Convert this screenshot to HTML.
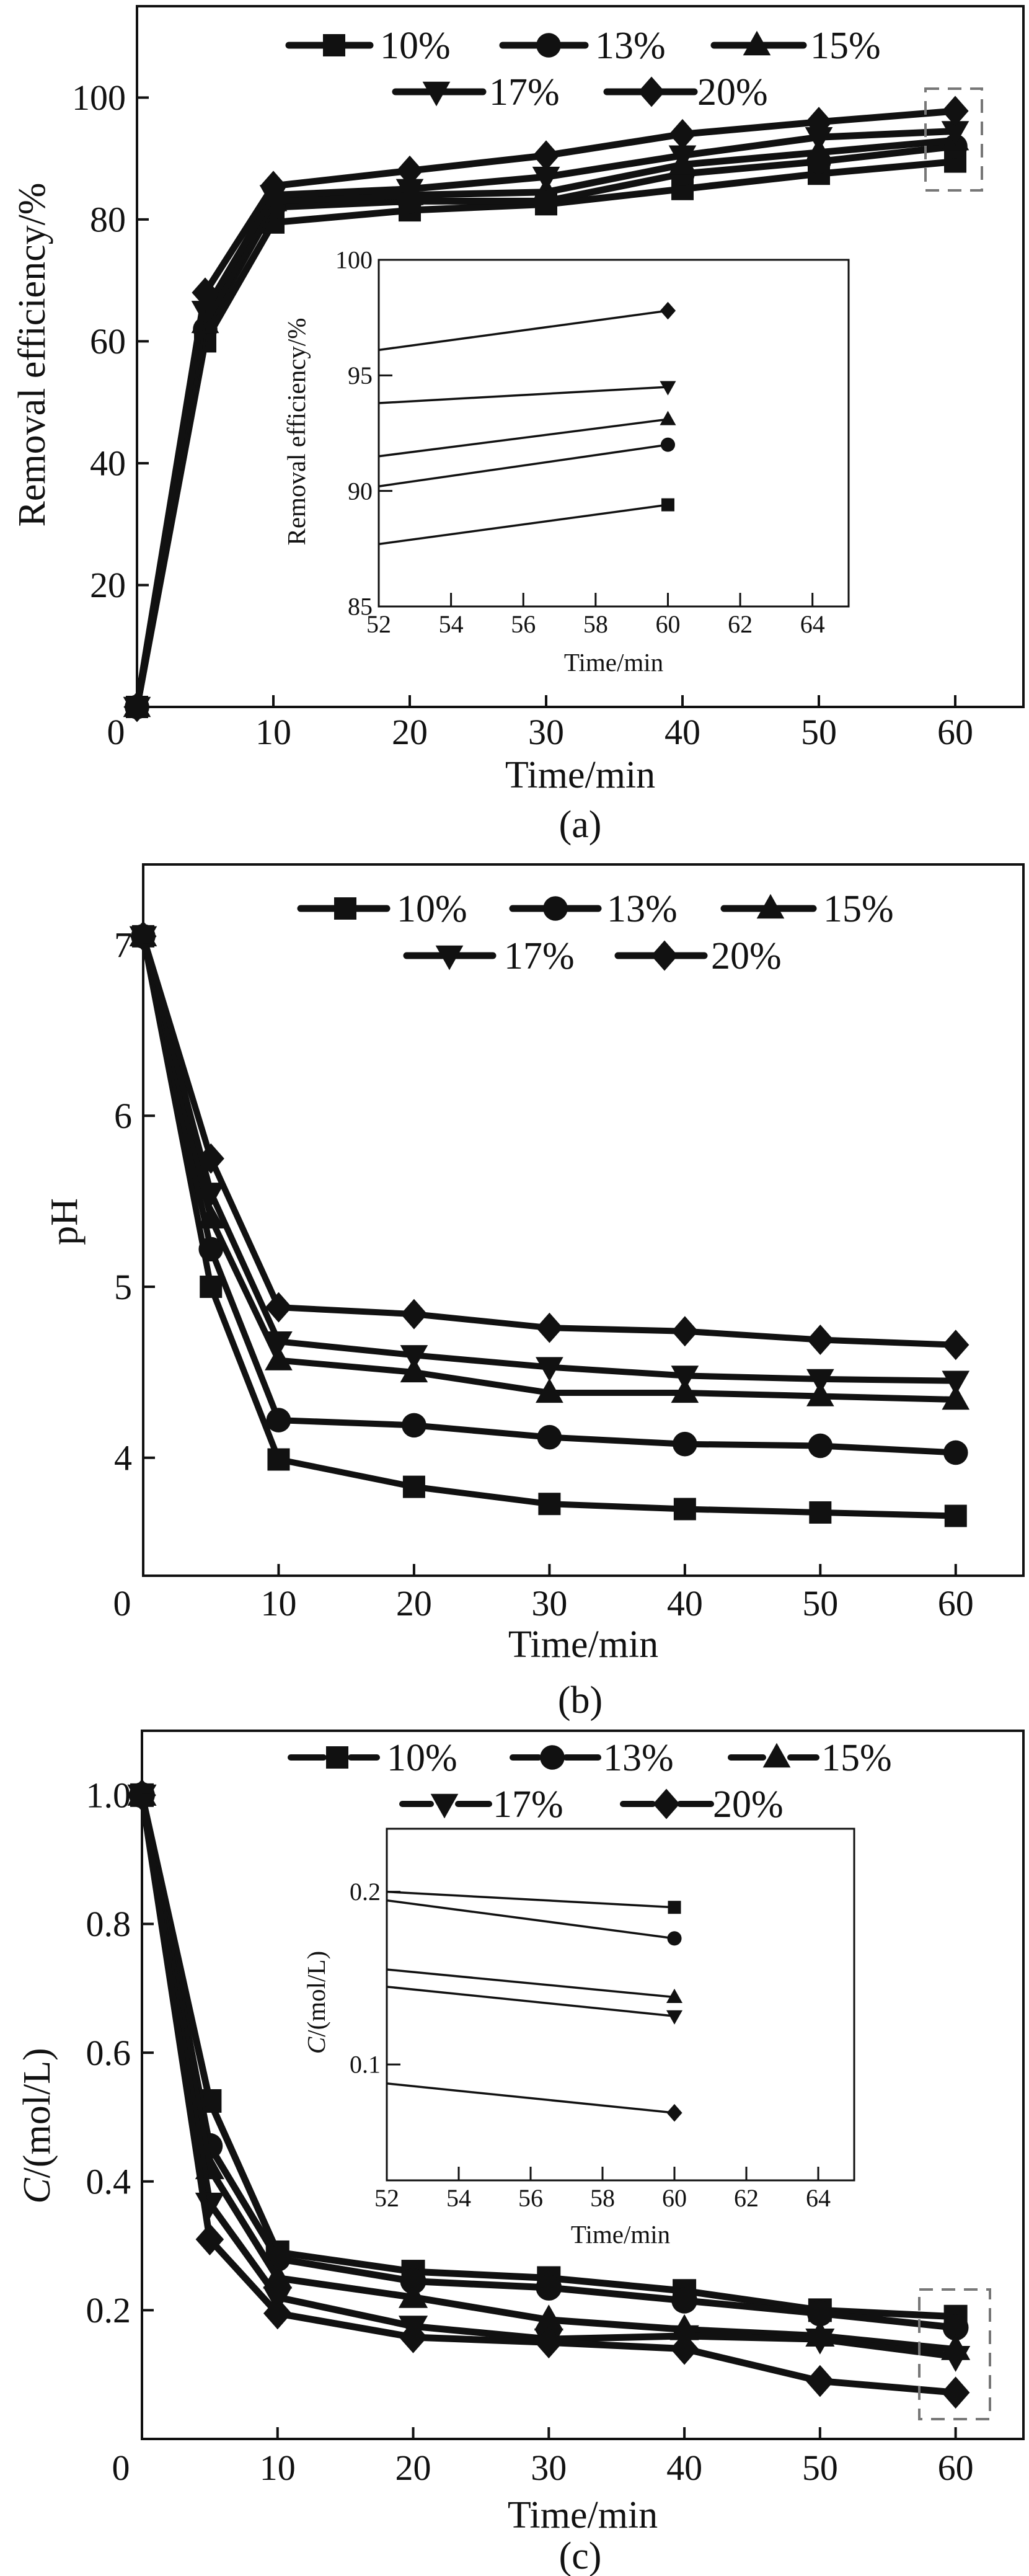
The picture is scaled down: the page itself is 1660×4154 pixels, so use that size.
<!DOCTYPE html>
<html><head><meta charset="utf-8"><style>
html,body{margin:0;padding:0;background:#fff}
svg{display:block}
svg text{font-family:"Liberation Serif","Times New Roman",serif;fill:#111}
</style></head><body>
<svg id="fig" width="1660" height="4154" viewBox="0 0 1660 4154" xmlns="http://www.w3.org/2000/svg">
<defs>
<clipPath id="clipInsetA"><rect x="611" y="419" width="758" height="559"/></clipPath>
<clipPath id="clipInsetC"><rect x="624" y="2949" width="754" height="567"/></clipPath>
</defs>
</svg>
<script>
// ---------- shared data ----------
const seriesLabels = ['10%','13%','15%','17%','20%'];
const markerTypes = ['square','circle','up','down','diamond'];
const timeMain = [0,5,10,20,30,40,50,60];
const timeInset = [52,60];
const xTicksMain = [0,10,20,30,40,50,60];
const xTicksInset = [52,54,56,58,60,62,64];

// panel (a) removal efficiency
const remA_10 = [0,60,79.5,81.5,82.5,85,87.5,89.5];
const remA_13 = [0,62,82,83,83,87.5,89.5,92];
const remA_15 = [0,63,83,84,84.5,89,91,93];
const remA_17 = [0,65,84,85,87,90.5,93.5,94.5];
const remA_20 = [0,68,85.5,88,90.5,94,96,97.8];
const yTicksA = [20,40,60,80,100];
const insetA_10 = [87.7,89.4];
const insetA_13 = [90.2,92.0];
const insetA_15 = [91.5,93.1];
const insetA_17 = [93.8,94.5];
const insetA_20 = [96.1,97.8];
const yTicksInsetA = [85,90,95,100];

// panel (b) pH
const phB_10 = [7.05,5.0,3.99,3.83,3.73,3.70,3.68,3.66];
const phB_13 = [7.05,5.22,4.22,4.19,4.12,4.08,4.07,4.03];
const phB_15 = [7.05,5.40,4.57,4.50,4.38,4.38,4.36,4.34];
const phB_17 = [7.05,5.55,4.68,4.60,4.53,4.48,4.46,4.45];
const phB_20 = [7.05,5.75,4.88,4.84,4.76,4.74,4.69,4.66];
const yTicksB = [4,5,6,7];

// panel (c) concentration
const concC_10 = [1.0,0.525,0.29,0.26,0.25,0.23,0.20,0.19];
const concC_13 = [1.0,0.455,0.28,0.245,0.235,0.215,0.195,0.173];
const concC_15 = [1.0,0.42,0.25,0.22,0.185,0.17,0.16,0.139];
const concC_17 = [1.0,0.366,0.22,0.175,0.155,0.16,0.155,0.128];
const concC_20 = [1.0,0.31,0.195,0.158,0.15,0.14,0.09,0.072];
const yTicksC = [0.2,0.4,0.6,0.8,1.0];
const insetC_10 = [0.200,0.191];
const insetC_13 = [0.195,0.173];
const insetC_15 = [0.155,0.139];
const insetC_17 = [0.145,0.128];
const insetC_20 = [0.089,0.072];
const yTicksInsetC = [0.1,0.2];

const NS='http://www.w3.org/2000/svg';
const FONT='"Liberation Serif", "Times New Roman", serif';
const svg=document.getElementById('fig');
function mk(tag,attrs,parent){const e=document.createElementNS(NS,tag);for(const k in attrs)e.setAttribute(k,attrs[k]);(parent||svg).appendChild(e);return e;}
function txt(s,attrs,parent){attrs['font-family']=FONT;const e=mk('text',attrs,parent);e.textContent=s;return e;}

function marker(type,cx,cy,s,parent){
  let e;
  if(type==='square') e=mk('rect',{x:cx-s/2,y:cy-s/2,width:s,height:s,fill:'#111'},parent);
  else if(type==='circle') e=mk('circle',{cx:cx,cy:cy,r:s*0.55,fill:'#111'},parent);
  else if(type==='up') e=mk('polygon',{points:`${cx},${cy-s*0.65} ${cx+s*0.62},${cy+s*0.45} ${cx-s*0.62},${cy+s*0.45}`,fill:'#111'},parent);
  else if(type==='down') e=mk('polygon',{points:`${cx},${cy+s*0.65} ${cx+s*0.62},${cy-s*0.45} ${cx-s*0.62},${cy-s*0.45}`,fill:'#111'},parent);
  else e=mk('polygon',{points:`${cx},${cy-s*0.68} ${cx+s*0.6},${cy} ${cx},${cy+s*0.68} ${cx-s*0.6},${cy}`,fill:'#111'},parent);
  return e;
}

function drawPanel(p){
  const sx=v=>p.l+(v-p.x0)/(p.x1-p.x0)*(p.r-p.l);
  const sy=v=>p.b-(v-p.y0)/(p.y1-p.y0)*(p.b-p.t);
  const g=mk('g',{});
  
  
  p.series.forEach((vals,i)=>{
    const sg=mk('g',{},g);
    
    
    const pts=p.xs.map((x,j)=>sx(x)+','+sy(vals[j])).join(' ');
    const pl=mk('polyline',{points:pts,fill:'none',stroke:'#111','stroke-width':p.lw,'stroke-linejoin':'round','stroke-linecap':'round'},sg);
    if(p.clip) pl.setAttribute('clip-path','url(#'+p.clip+')');
    p.xs.forEach((x,j)=>{
      if(p.markerOnly && !p.markerOnly.includes(x)) return;
      const m=marker(markerTypes[i],sx(x),sy(vals[j]),p.ms,sg);
      
      
    });
  });
  const fr=mk('rect',{x:p.l,y:p.t,width:p.r-p.l,height:p.b-p.t,fill:'none',stroke:'#111','stroke-width':p.aw},g);
  
  
  p.xticks.forEach(v=>{
    const x=sx(v);
    if(v!==p.x0) mk('line',{x1:x,y1:p.b,x2:x,y2:p.b-p.tl,stroke:'#111','stroke-width':p.aw},g);
    const lx=(v===p.x0&&p.zeroShift)?x-p.zeroShift:x;
    const t=txt(String(v),{x:lx,y:p.b+p.xlabOff,'font-size':p.fs,'text-anchor':'middle'},g);
    
    
  });
  p.yticks.forEach(v=>{
    const y=sy(v);
    mk('line',{x1:p.l,y1:y,x2:p.l+p.tl,y2:y,stroke:'#111','stroke-width':p.aw},g);
    const t=txt(p.yfmt?p.yfmt(v):String(v),{x:p.l-p.ylabOff,y:y+p.fs*0.34,'font-size':p.fs,'text-anchor':'end'},g);
    
    
  });
  const xt=txt('Time/min',{x:(p.l+p.r)/2,y:p.xtY,'font-size':p.tfs,'text-anchor':'middle'},g);
  
  
  const yt=mk('text',{x:0,y:0,'font-size':p.tfs,'font-family':FONT,'text-anchor':'middle',transform:`translate(${p.ytX},${p.ytY}) rotate(-90)`},g);
  if(p.ytItalic){const a=mk('tspan',{'font-style':'italic'},yt);a.textContent='C';const b2=mk('tspan',{},yt);b2.textContent=p.ytitle;}
  else yt.textContent=p.ytitle;
  
  
  return {sx,sy};
}

function legend(entries,dashed,name){
  const g=mk('g',{});
  
  
  entries.forEach((e,i)=>{
    const eg=mk('g',{},g);
    
    
    if(dashed){
      mk('line',{x1:e.l1,y1:e.y,x2:e.m-22,y2:e.y,stroke:'#111','stroke-width':10,'stroke-linecap':'round'},eg);
      mk('line',{x1:e.m+22,y1:e.y,x2:e.l2,y2:e.y,stroke:'#111','stroke-width':10,'stroke-linecap':'round'},eg);
    } else mk('line',{x1:e.l1,y1:e.y,x2:e.l2,y2:e.y,stroke:'#111','stroke-width':11,'stroke-linecap':'round'},eg);
    marker(markerTypes[i],e.m,e.y,36,eg);
    txt(seriesLabels[i],{x:e.t,y:e.y+21,'font-size':62},eg);
  });
}

// ---------- Panel A ----------
drawPanel({name:'panel-a-removal-efficiency',l:221,r:1651,t:10,b:1140,x0:0,x1:65,y0:0,y1:115,
  xs:timeMain,series:[remA_10,remA_13,remA_15,remA_17,remA_20],lw:11,ms:36,aw:4,tl:19,
  xticks:xTicksMain,yticks:yTicksA,fs:58,xlabOff:60,ylabOff:18,zeroShift:34,
  tfs:62,xtY:1270,ytX:72,ytY:572,ytitle:'Removal efficiency/%'});
legend([
 {l1:466,l2:597,m:539,t:613,y:73},{l1:811,l2:944,m:885,t:960,y:73},{l1:1152,l2:1296,m:1221,t:1307,y:73},
 {l1:638,l2:779,m:704,t:789,y:148},{l1:979,l2:1120,m:1051,t:1125,y:148}],false,'legend-a');
const boxA=mk('rect',{x:1493,y:143,width:91,height:164,fill:'none',stroke:'#777','stroke-width':4,'stroke-dasharray':'22 14'});


mk('rect',{x:611,y:419,width:758,height:559,fill:'#fff'});
drawPanel({name:'inset-a',l:611,r:1369,t:419,b:978,x0:52,x1:65,y0:85,y1:100,
  xs:timeInset,series:[insetA_10,insetA_13,insetA_15,insetA_17,insetA_20],lw:3.5,ms:21,aw:3,tl:22,
  markerOnly:[60],clip:'clipInsetA',
  xticks:xTicksInset,yticks:yTicksInsetA,fs:40,xlabOff:42,ylabOff:10,
  tfs:41,xtY:1082,ytX:492,ytY:696,ytitle:'Removal efficiency/%'});
const capA=txt('(a)',{x:936,y:1350,'font-size':62,'text-anchor':'middle'});



// ---------- Panel B ----------
drawPanel({name:'panel-b-ph',l:231,r:1651,t:1394,b:2541,x0:0,x1:65,y0:3.31,y1:7.47,
  xs:timeMain,series:[phB_10,phB_13,phB_15,phB_17,phB_20],lw:10,ms:36,aw:4,tl:19,
  xticks:xTicksMain,yticks:yTicksB,fs:58,xlabOff:64,ylabOff:18,zeroShift:34,
  tfs:62,xtY:2672,ytX:124,ytY:1970,ytitle:'pH'});
legend([
 {l1:485,l2:624,m:557,t:640,y:1465},{l1:827,l2:965,m:896,t:979,y:1465},{l1:1168,l2:1312,m:1243,t:1328,y:1465},
 {l1:656,l2:795,m:725,t:813,y:1541},{l1:997,l2:1136,m:1072,t:1147,y:1541}],false,'legend-b');
const capB=txt('(b)',{x:936,y:2762,'font-size':62,'text-anchor':'middle'});



// ---------- Panel C ----------
drawPanel({name:'panel-c-concentration',l:229,r:1651,t:2791,b:3933,x0:0,x1:65,y0:0,y1:1.1,
  xs:timeMain,series:[concC_10,concC_13,concC_15,concC_17,concC_20],lw:11,ms:38,aw:4,tl:19,
  xticks:xTicksMain,yticks:yTicksC,fs:58,xlabOff:66,ylabOff:18,zeroShift:34,yfmt:v=>v.toFixed(1),
  tfs:62,xtY:4076,ytX:80,ytY:3428,ytitle:'/(mol/L)',ytItalic:true});
legend([
 {l1:469,l2:608,m:544,t:624,y:2834},{l1:827,l2:965,m:891,t:973,y:2834},{l1:1179,l2:1317,m:1253,t:1325,y:2834},
 {l1:649,l2:789,m:717,t:795,y:2909},{l1:1005,l2:1147,m:1075,t:1150,y:2909}],true,'legend-c');
const boxC=mk('rect',{x:1483,y:3692,width:114,height:209,fill:'none',stroke:'#777','stroke-width':4,'stroke-dasharray':'22 14'});


mk('rect',{x:624,y:2949,width:754,height:567,fill:'#fff'});
drawPanel({name:'inset-c',l:624,r:1378,t:2949,b:3516,x0:52,x1:65,y0:0.0329,y1:0.2365,
  xs:timeInset,series:[insetC_10,insetC_13,insetC_15,insetC_17,insetC_20],lw:3.5,ms:21,aw:3,tl:22,
  markerOnly:[60],clip:'clipInsetC',
  xticks:xTicksInset,yticks:yTicksInsetC,fs:40,xlabOff:42,ylabOff:10,yfmt:v=>v.toFixed(1),
  tfs:41,xtY:3617,ytX:524,ytY:3229,ytitle:'/(mol/L)',ytItalic:true});
const capC=txt('(c)',{x:936,y:4142,'font-size':62,'text-anchor':'middle'});


</script>
</body></html>
